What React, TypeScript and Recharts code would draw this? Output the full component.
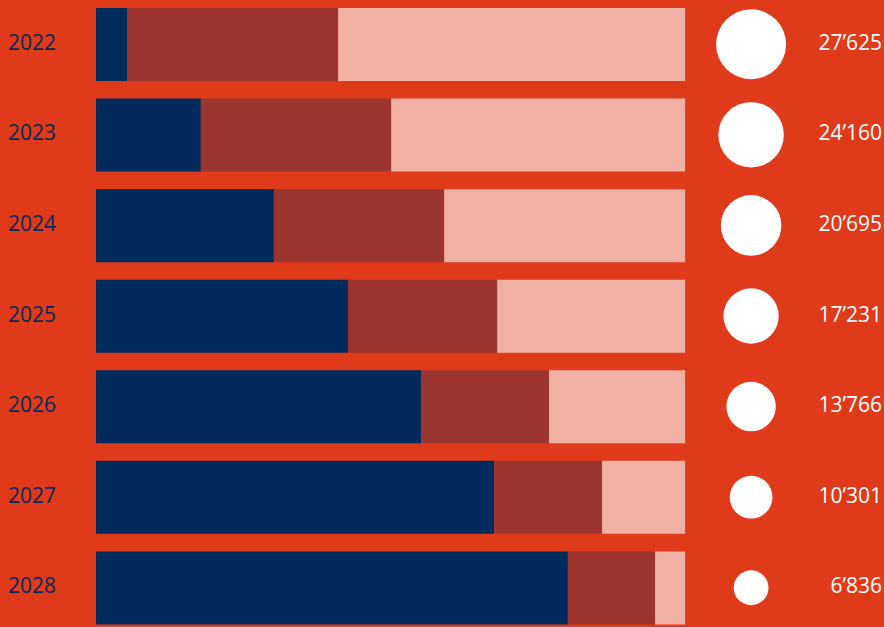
import React from 'react';
import { ComposedChart, Bar, Scatter, XAxis, YAxis, ZAxis } from 'recharts';

const years = ['2022', '2023', '2024', '2025', '2026', '2027', '2028'];
const navyShare = [5.3, 17.8, 30.2, 42.8, 55.2, 67.6, 80.1];
const redShare = [35.8, 32.3, 28.9, 25.3, 21.7, 18.3, 14.8];
const pinkShare = [58.9, 49.9, 40.9, 31.9, 23.1, 14.1, 5.1];
const totals = [27625, 24160, 20695, 17231, 13766, 10301, 6836];
const totalLabels = ['27’625', '24’160', '20’695', '17’231', '13’766', '10’301', '6’836'];

const BUBBLE_X = 111.2;
const X_MAX = 119.5;

const data = years.map((y, i) => ({
  year: y,
  navy: navyShare[i],
  red: redShare[i],
  pink: pinkShare[i],
  total: totals[i],
  label: totalLabels[i],
  bubbleX: BUBBLE_X,
}));

const BG = '#DF3A1A';
const NAVY = '#002B5C';
const RED = '#9C3430';
const PINK = '#F0B0A4';
const FONT = '"Open Sans", "Noto Sans", sans-serif';

const LeftTick = (props: any) => {
  const { y, payload } = props;
  return (
    <text x={8} y={y} dy={-2.5} textAnchor="start" dominantBaseline="central" fill={NAVY} fontSize={21} fontFamily={FONT}>
      {payload.value}
    </text>
  );
};

const RightTick = (props: any) => {
  const { y, index } = props;
  return (
    <text x={882} y={y} dy={-2.5} textAnchor="end" dominantBaseline="central" fill="#FFFFFF" fontSize={21} fontFamily={FONT}>
      {totalLabels[index]}
    </text>
  );
};

export default function App() {
  return (
    <div style={{ width: 884, height: 627, background: BG, overflow: 'hidden' }}>
      <style>{'body{margin:0;overflow:hidden}'}</style>
      <ComposedChart
        width={884}
        height={627}
        data={data}
        layout="vertical"
        margin={{ top: -1, bottom: -6, left: 0, right: 0 }}
        barSize={73}
      >
        <XAxis type="number" domain={[0, X_MAX]} hide allowDataOverflow />
        <YAxis
          yAxisId="left"
          type="category"
          dataKey="year"
          width={96}
          axisLine={false}
          tickLine={false}
          tick={<LeftTick />}
          interval={0}
        />
        <YAxis
          yAxisId="right"
          orientation="right"
          type="category"
          dataKey="year"
          width={84}
          axisLine={false}
          tickLine={false}
          tick={<RightTick />}
          interval={0}
        />
        <ZAxis type="number" dataKey="total" domain={[0, 27625]} range={[0, Math.PI * 35 * 35]} />
        <Bar yAxisId="left" dataKey="navy" stackId="s" fill={NAVY} isAnimationActive={false} />
        <Bar yAxisId="left" dataKey="red" stackId="s" fill={RED} isAnimationActive={false} />
        <Bar yAxisId="left" dataKey="pink" stackId="s" fill={PINK} isAnimationActive={false} />
        <Scatter yAxisId="left" dataKey="bubbleX" fill="#FFFFFF" shape="circle" isAnimationActive={false} />
      </ComposedChart>
    </div>
  );
}
